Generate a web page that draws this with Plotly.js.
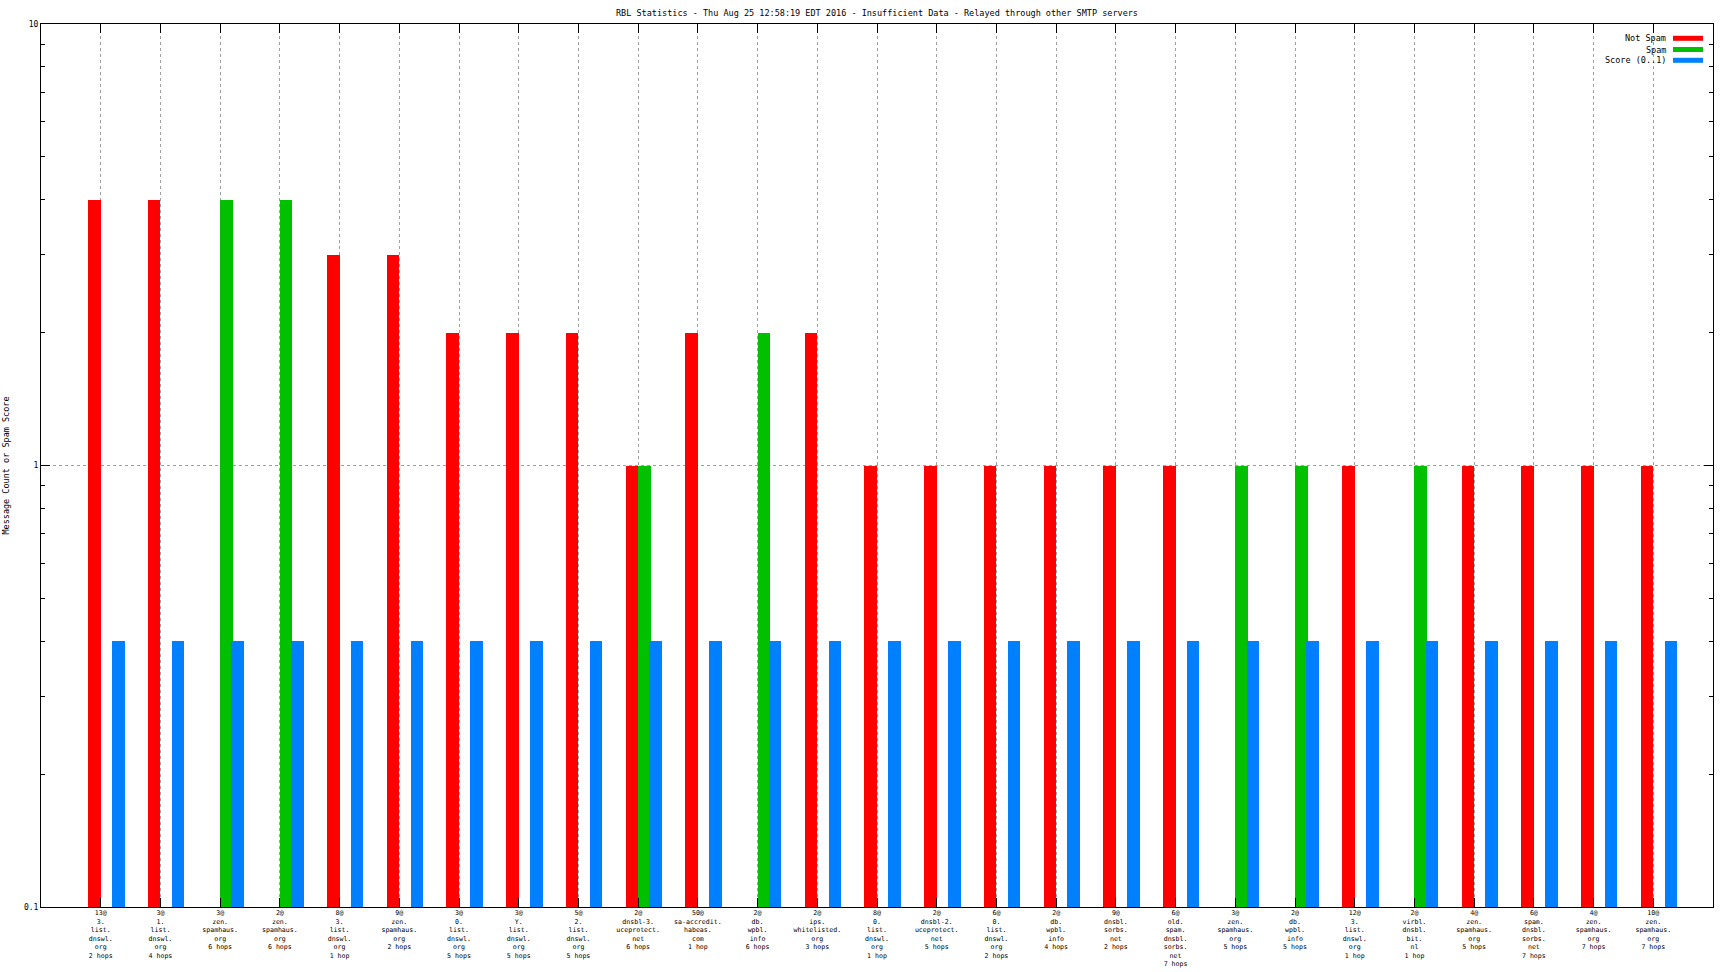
<!DOCTYPE html>
<html>
<head>
<meta charset="utf-8">
<script src="https://cdn.plot.ly/plotly-3.0.1.min.js"></script>
<style>html,body{margin:0;padding:0;background:#fff;}#chart{width:1728px;height:972px;}</style>
</head>
<body>
<div id="chart"></div>
<script>
const categories = [
  "13@<br>3.<br>list.<br>dnswl.<br>org<br>2 hops",
  "3@<br>1.<br>list.<br>dnswl.<br>org<br>4 hops",
  "3@<br>zen.<br>spamhaus.<br>org<br>6 hops",
  "2@<br>zen.<br>spamhaus.<br>org<br>6 hops",
  "8@<br>3.<br>list.<br>dnswl.<br>org<br>1 hop",
  "9@<br>zen.<br>spamhaus.<br>org<br>2 hops",
  "3@<br>0.<br>list.<br>dnswl.<br>org<br>5 hops",
  "3@<br>Y.<br>list.<br>dnswl.<br>org<br>5 hops",
  "5@<br>2.<br>list.<br>dnswl.<br>org<br>5 hops",
  "2@<br>dnsbl-3.<br>uceprotect.<br>net<br>6 hops",
  "50@<br>sa-accredit.<br>habeas.<br>com<br>1 hop",
  "2@<br>db.<br>wpbl.<br>info<br>6 hops",
  "2@<br>ips.<br>whitelisted.<br>org<br>3 hops",
  "8@<br>0.<br>list.<br>dnswl.<br>org<br>1 hop",
  "2@<br>dnsbl-2.<br>uceprotect.<br>net<br>5 hops",
  "6@<br>0.<br>list.<br>dnswl.<br>org<br>2 hops",
  "2@<br>db.<br>wpbl.<br>info<br>4 hops",
  "9@<br>dnsbl.<br>sorbs.<br>net<br>2 hops",
  "6@<br>old.<br>spam.<br>dnsbl.<br>sorbs.<br>net<br>7 hops",
  "3@<br>zen.<br>spamhaus.<br>org<br>5 hops",
  "2@<br>db.<br>wpbl.<br>info<br>5 hops",
  "12@<br>3.<br>list.<br>dnswl.<br>org<br>1 hop",
  "2@<br>virbl.<br>dnsbl.<br>bit.<br>nl<br>1 hop",
  "4@<br>zen.<br>spamhaus.<br>org<br>5 hops",
  "6@<br>spam.<br>dnsbl.<br>sorbs.<br>net<br>7 hops",
  "4@<br>zen.<br>spamhaus.<br>org<br>7 hops",
  "10@<br>zen.<br>spamhaus.<br>org<br>7 hops"
];
const notSpam = [4, 4, null, null, 3, 3, 2, 2, 2, 1, 2, null, 2, 1, 1, 1, 1, 1, 1, null, null, 1, null, 1, 1, 1, 1];
const spam    = [null, null, 4, 4, null, null, null, null, null, 1, null, 2, null, null, null, null, null, null, null, 1, 1, null, 1, null, null, null, null];
const score   = [0.4, 0.4, 0.4, 0.4, 0.4, 0.4, 0.4, 0.4, 0.4, 0.4, 0.4, 0.4, 0.4, 0.4, 0.4, 0.4, 0.4, 0.4, 0.4, 0.4, 0.4, 0.4, 0.4, 0.4, 0.4, 0.4, 0.4];
const seriesNames = ["Not Spam", "Spam", "Score (0..1)"];
const yTickVals = [0.1, 1, 10];
const yTickText = ["0.1", "1", "10"];
const titleText = "RBL Statistics - Thu Aug 25 12:58:19 EDT 2016 - Insufficient Data - Relayed through other SMTP servers";
const yTitle = "Message Count or Spam Score";

const colors = ["#ff0000", "#00c000", "#0080ff"];
const FONT = "DejaVu Sans Mono, Liberation Mono, monospace";
const W = 0.21;

const traces = [
  {type: "bar", x: categories, y: notSpam, name: seriesNames[0], marker: {color: colors[0], line: {width: 0}}, width: W, offset: -W, hoverinfo: "y"},
  {type: "bar", x: categories, y: spam, name: seriesNames[1], marker: {color: colors[1], line: {width: 0}}, width: W, offset: 0, hoverinfo: "y"},
  {type: "bar", x: categories, y: score, name: seriesNames[2], marker: {color: colors[2], line: {width: 0}}, width: W, offset: 0.19, hoverinfo: "y"}
];

// legend drawn gnuplot-style (text then swatch)
const L = 41, R = 15, T = 24, B = 65;
const PW = 1728 - L - R, PH = 972 - T - B;
function px2x(p){ return (p - L) / PW; }
function py2y(p){ return (972 - B - p) / PH; }
const rowsY = [38.3, 49.5, 60.3];
const shapes = [], annotations = [];
seriesNames.forEach((n, i) => {
  shapes.push({type: "rect", xref: "paper", yref: "paper",
    x0: px2x(1673), x1: px2x(1703), y0: py2y(rowsY[i] + 2.5), y1: py2y(rowsY[i] - 2.5),
    fillcolor: colors[i], line: {width: 0}});
  annotations.push({xref: "paper", yref: "paper", x: px2x(1668), y: py2y(rowsY[i]),
    xanchor: "right", yanchor: "middle", showarrow: false, text: n,
    font: {family: FONT, size: 8.5, color: "#000"}});
});

const layout = {
  width: 1728, height: 972,
  margin: {l: L, r: R, t: T, b: B, pad: 0},
  paper_bgcolor: "#fff", plot_bgcolor: "#fff",
  showlegend: false,
  barmode: "overlay",
  title: {text: titleText, x: 0.5, xref: "paper", xanchor: "center", y: 1 - 12.7/972, yanchor: "middle",
          font: {family: FONT, size: 8.5, color: "#000"}},
  xaxis: {
    type: "category", range: [-1, 27],
    showline: true, linecolor: "#000", linewidth: 1, mirror: "ticks",
    ticks: "inside", ticklen: 9, tickcolor: "#000", tickwidth: 1,
    showgrid: true, gridcolor: "#a0a0a0", griddash: "3px,3px", gridwidth: 1,
    tickfont: {family: FONT, size: 6.6, color: "#000"},
    ticklabelstandoff: -1,
    tickangle: 0, automargin: false, zeroline: false, fixedrange: true
  },
  yaxis: {
    type: "log", range: [-1, 1],
    tickvals: yTickVals, ticktext: yTickText,
    showline: true, linecolor: "#000", linewidth: 1, mirror: "ticks",
    ticks: "inside", ticklen: 9, tickcolor: "#000", tickwidth: 1,
    showgrid: true, gridcolor: "#a0a0a0", griddash: "3px,3px", gridwidth: 1,
    minor: {dtick: "D1", ticks: "inside", ticklen: 4, tickcolor: "#000", showgrid: false},
    tickfont: {family: FONT, size: 8, color: "#000"},
    title: {text: yTitle, standoff: 12, font: {family: FONT, size: 8.5, color: "#000"}},
    automargin: false, zeroline: false, fixedrange: true
  },
  shapes: shapes,
  annotations: annotations,
  bargap: 0
};

Plotly.newPlot("chart", traces, layout, {staticPlot: true, displayModeBar: false});
</script>
</body>
</html>
